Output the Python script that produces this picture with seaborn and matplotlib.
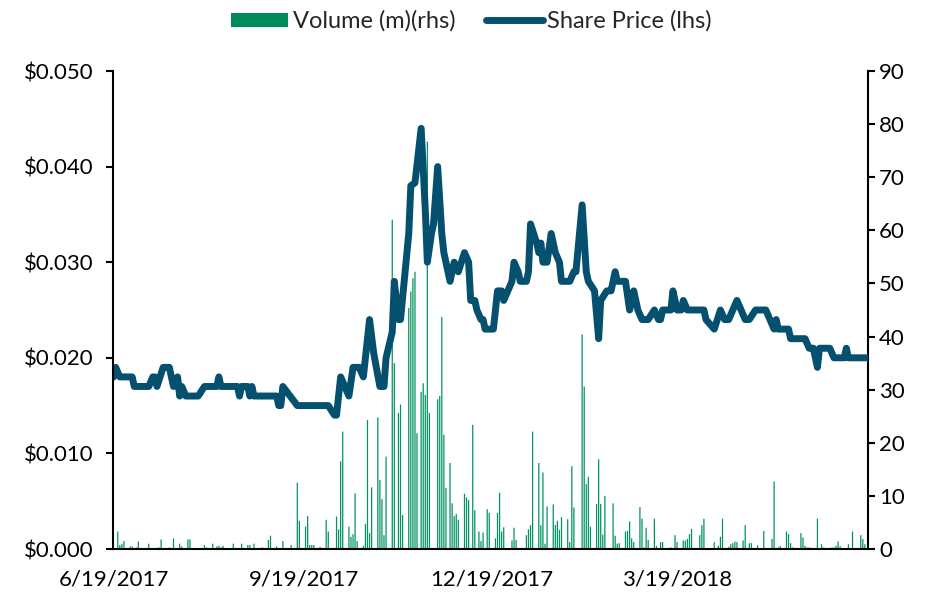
import matplotlib
matplotlib.use("Agg")
import matplotlib.pyplot as plt
import matplotlib.dates as mdates
from matplotlib.patches import Patch
from matplotlib.lines import Line2D
from matplotlib.ticker import FuncFormatter, MultipleLocator
import numpy as np
import pandas as pd
import seaborn as sns

# ---------------- data (day offsets from start date) ----------------
start_date = "2017-06-19"

price_day = [0, 1, 3, 9, 10, 17, 19, 20, 21, 24, 27, 29, 31, 32, 33, 35, 41, 44, 50, 51,
             52, 60, 61, 62, 65, 66, 67, 68, 79, 80, 81, 82, 89, 104, 107, 108, 110, 114, 116, 119,
             121, 124, 126, 129, 131, 132, 135, 136, 138, 139, 143, 144, 146, 149, 151, 152, 154, 155, 157, 159,
             160, 163, 165, 167, 170, 172, 173, 175, 176, 178, 179, 180, 184, 186, 188, 189, 191, 193, 194, 196,
             197, 200, 201, 202, 205, 206, 207, 208, 210, 212, 214, 216, 217, 221, 223, 224, 227, 229, 230, 233,
             235, 236, 239, 241, 242, 243, 244, 248, 250, 252, 254, 256, 259, 262, 264, 265, 266, 270, 271, 273,
             275, 276, 278, 286, 287, 291, 294, 296, 298, 302, 304, 306, 308, 311, 316, 320, 321, 322, 327, 328,
             335, 337, 339, 341, 342, 347, 349, 354, 355, 356, 365]
price_val = [0.018, 0.019, 0.018, 0.018, 0.017, 0.017, 0.018, 0.018, 0.017, 0.019, 0.019, 0.017, 0.018, 0.016, 0.017, 0.016, 0.016, 0.017, 0.017, 0.018,
             0.017, 0.017, 0.016, 0.017, 0.017, 0.016, 0.017, 0.016, 0.016, 0.015, 0.015, 0.017, 0.015, 0.015, 0.014, 0.014, 0.018, 0.016, 0.019, 0.019,
             0.018, 0.024, 0.0205, 0.017, 0.017, 0.020, 0.0227, 0.028, 0.024, 0.024, 0.033, 0.038, 0.0383, 0.044, 0.0355, 0.030, 0.033, 0.034, 0.040, 0.033,
             0.031, 0.028, 0.030, 0.029, 0.031, 0.030, 0.026, 0.026, 0.025, 0.024, 0.024, 0.023, 0.023, 0.027, 0.027, 0.026, 0.027, 0.028, 0.030, 0.029,
             0.028, 0.028, 0.029, 0.034, 0.032, 0.031, 0.032, 0.030, 0.030, 0.033, 0.031, 0.030, 0.028, 0.028, 0.029, 0.029, 0.036, 0.029, 0.028, 0.027,
             0.022, 0.026, 0.027, 0.027, 0.028, 0.029, 0.028, 0.028, 0.025, 0.027, 0.025, 0.024, 0.024, 0.025, 0.024, 0.024, 0.025, 0.025, 0.027, 0.025,
             0.025, 0.026, 0.025, 0.025, 0.024, 0.023, 0.025, 0.024, 0.024, 0.026, 0.025, 0.024, 0.024, 0.025, 0.025, 0.023, 0.024, 0.023, 0.023, 0.022,
             0.022, 0.021, 0.021, 0.019, 0.021, 0.021, 0.020, 0.020, 0.021, 0.020, 0.020]

vol_day = [2, 3, 4, 5, 8, 9, 11, 12, 17, 18, 22, 23, 27, 29, 32, 33, 36, 37, 44, 45,
           48, 50, 51, 52, 53, 58, 62, 65, 66, 68, 72, 75, 76, 79, 82, 86, 89, 90, 93, 94,
           95, 96, 97, 100, 103, 104, 107, 108, 109, 110, 111, 114, 115, 116, 117, 118, 121, 122, 123, 124,
           125, 128, 129, 130, 131, 132, 135, 136, 138, 139, 140, 143, 144, 145, 146, 147, 149, 150, 151, 152,
           153, 157, 158, 159, 160, 161, 163, 164, 165, 166, 167, 170, 171, 172, 174, 175, 177, 178, 179, 181,
           182, 185, 186, 187, 188, 189, 193, 194, 195, 200, 201, 202, 203, 206, 207, 208, 209, 210, 213, 214,
           215, 216, 217, 220, 221, 222, 223, 227, 228, 229, 230, 231, 234, 235, 236, 237, 238, 241, 242, 243,
           244, 245, 248, 249, 250, 251, 252, 255, 256, 257, 258, 259, 262, 263, 265, 266, 270, 271, 272, 273,
           276, 277, 278, 279, 280, 284, 285, 286, 287, 291, 293, 294, 295, 298, 299, 300, 301, 302, 305, 306,
           308, 309, 312, 315, 319, 320, 321, 322, 323, 326, 327, 328, 329, 333, 334, 335, 336, 337, 340, 341,
           343, 344, 348, 349, 350, 351, 352, 356, 358, 362, 363, 364]
vol_val = [3.3, 0.75, 1.0, 1.5, 0.5, 0.5, 0.3, 1.4, 1.0, 0.2, 0.3, 1.8, 0.3, 2.0, 1.0, 0.5, 1.8, 1.8, 0.75, 0.3,
           1.0, 0.5, 0.6, 0.3, 0.6, 1.0, 1.0, 0.75, 0.75, 1.0, 0.3, 1.7, 2.5, 0.5, 1.5, 0.75, 12.5, 5.3, 4.2, 6.2,
           0.75, 0.75, 0.75, 0.4, 5.5, 3.3, 0.2, 6.1, 3.7, 16.5, 22.1, 4.2, 2.3, 2.8, 10.5, 1.5, 0.6, 4.7, 24.3, 3.0,
           11.6, 24.8, 13.0, 9.4, 2.6, 17.4, 62.0, 35.0, 25.6, 27.2, 6.4, 45.4, 48.5, 51.0, 52.2, 21.8, 29.6, 31.2, 29.0, 76.7,
           25.6, 28.2, 28.8, 43.7, 21.5, 11.5, 16.2, 8.6, 6.2, 6.6, 5.5, 10.4, 9.7, 9.2, 23.4, 7.3, 3.3, 1.5, 3.1, 7.5,
           6.8, 2.0, 6.8, 10.6, 3.3, 4.1, 1.6, 4.0, 1.7, 2.6, 3.7, 4.5, 22.1, 16.2, 4.5, 14.4, 1.0, 8.0, 8.4, 4.5,
           5.3, 3.6, 6.0, 5.6, 1.3, 15.6, 7.8, 40.4, 30.6, 12.2, 13.6, 4.2, 8.5, 16.9, 8.5, 2.7, 10.0, 0.2, 8.6, 2.5,
           1.0, 1.1, 3.3, 3.4, 5.2, 2.0, 1.3, 7.9, 5.7, 0.3, 4.0, 1.7, 5.7, 0.6, 1.3, 1.3, 0.3, 0.2, 2.6, 1.3,
           1.6, 1.6, 1.9, 2.8, 3.8, 2.6, 4.5, 5.7, 0.2, 1.3, 0.6, 2.3, 5.7, 0.4, 0.9, 1.1, 1.4, 1.3, 1.6, 4.5,
           1.1, 1.1, 0.7, 3.4, 1.9, 12.7, 0.2, 0.3, 0.6, 3.3, 2.8, 1.1, 0.3, 3.0, 2.2, 0.6, 0.3, 0.3, 0.1, 5.7,
           0.9, 0.3, 0.3, 0.3, 0.6, 1.4, 0.5, 0.9, 3.3, 2.6, 1.9, 0.9]

tick_dates = ["2017-06-19", "2017-09-19", "2017-12-19", "2018-03-19"]
legend_labels = ["Volume (m)(rhs)", "Share Price (lhs)"]

# ---------------- styling ----------------
sns.set_style("white")
plt.rcParams["font.family"] = ["Lato", "DejaVu Sans"]

LINE_C = "#05506E"
BAR_C = "#00935F"
FS = 16

t0 = pd.Timestamp(start_date)
price_df = pd.DataFrame({"date": t0 + pd.to_timedelta(price_day, unit="D"), "price": price_val})
vol_df = pd.DataFrame({"date": t0 + pd.to_timedelta(vol_day, unit="D"), "vol": vol_val})

fig = plt.figure(figsize=(9.32, 5.94), dpi=100)
ax = fig.add_axes([113 / 932, 45 / 594, (868 - 113) / 932, (549 - 71) / 594])
ax2 = ax.twinx()

ax2.bar(vol_df["date"], vol_df["vol"], width=0.6, color=BAR_C, linewidth=0, snap=False)

sns.lineplot(data=price_df, x="date", y="price", ax=ax, color=LINE_C, linewidth=5,
             solid_joinstyle="round", solid_capstyle="round")

ax.set_zorder(ax2.get_zorder() + 1)
ax.patch.set_visible(False)

xmin = t0 - pd.Timedelta(days=0.3)
xmax = t0 + pd.Timedelta(days=365.5)
ax.set_xlim(xmin, xmax)
ax.set_ylim(0, 0.05)
ax2.set_ylim(0, 90)

ax.yaxis.set_major_locator(MultipleLocator(0.01))
ax.yaxis.set_major_formatter(FuncFormatter(lambda v, p: f"${v:.3f}"))
ax2.yaxis.set_major_locator(MultipleLocator(10))
ax2.yaxis.set_major_formatter(FuncFormatter(lambda v, p: f"{v:.0f}"))

ax.set_xticks([pd.Timestamp(d) for d in tick_dates])
ax.xaxis.set_major_formatter(FuncFormatter(
    lambda v, p: f"{mdates.num2date(v).month}/{mdates.num2date(v).day}/{mdates.num2date(v).year}"))

ax.set_xlabel("")
ax.set_ylabel("")
ax2.set_ylabel("")

for a in (ax, ax2):
    a.grid(False)
    for s in a.spines.values():
        s.set_visible(False)
ax.spines["left"].set_visible(True)
ax.spines["bottom"].set_visible(True)
ax2.spines["right"].set_visible(True)
for a, side in ((ax, "left"), (ax, "bottom"), (ax2, "right")):
    a.spines[side].set_color("black")
    a.spines[side].set_linewidth(1.5)

ax.tick_params(axis="y", which="both", direction="out", length=5, width=1.5, color="black",
               labelsize=FS, labelcolor="black", pad=9)
ax.tick_params(axis="x", which="both", direction="out", length=0, labelsize=FS,
               labelcolor="black", pad=15)
ax2.tick_params(axis="y", which="both", direction="out", length=5, width=1.5, color="black",
                labelsize=FS, labelcolor="black", pad=3)

handles = [Patch(facecolor="#008C5A", edgecolor="none"),
           Line2D([0], [0], color=LINE_C, linewidth=5, solid_capstyle="round")]
fig.legend(handles, legend_labels, loc="upper center", bbox_to_anchor=(0.506, 1.018),
           ncol=2, frameon=False, fontsize=17, handlelength=2.4, handleheight=0.55,
           handletextpad=0.2, columnspacing=1.3)

fig.savefig("out.png", dpi=100)
